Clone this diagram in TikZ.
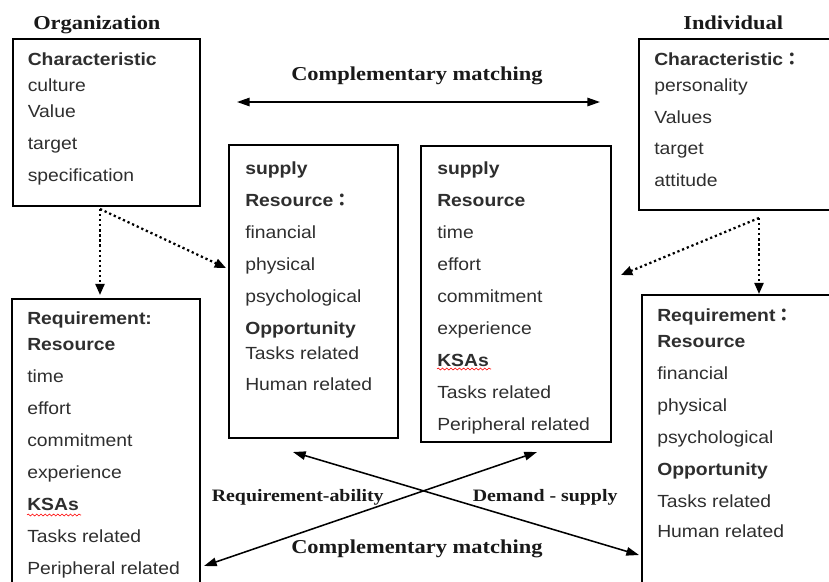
\documentclass[tikz,border=0pt]{standalone}
\usepackage{fontspec}
\newfontfamily\itemfont[FakeStretch=1.1]{Liberation Sans}
\newfontfamily\captionfont[FakeStretch=1.14]{Liberation Serif}
\newfontfamily\cjkfont{Noto Sans CJK JP}
\newcommand{\fwcolon}{{\cjkfont ：}}
\usetikzlibrary{arrows.meta,fit,decorations.pathmorphing}

\tikzset{
  box/.style={draw, line width=1.8pt, inner sep=0pt},
  items/.style={anchor=north west, align=left, inner sep=0pt, text=black!82,
    font=\fontsize{12.5}{22.76}\itemfont},
  caption/.style={anchor=base west, inner sep=0pt, text=black!90,
    font=\fontsize{14}{16}\captionfont\bfseries},
  smallcaption/.style={caption, font=\fontsize{12.4}{15}\captionfont\bfseries},
  match/.style={line width=1.1pt,
    {Triangle[length=9pt,width=6pt]}-{Triangle[length=9pt,width=6pt]}},
  link/.style={dotted, line width=1.6pt, -{Triangle[length=8pt,width=6.5pt]}},
  squiggle/.style={red, line width=0.4pt, decorate,
    decoration={snake, amplitude=0.7pt, segment length=3pt}},
}

\begin{document}
\begin{tikzpicture}[x=0.025cm, y=-0.025cm]
    \useasboundingbox (0,0) rectangle (829,581);

    % boxes
    \node[box, fit={(13,39) (200,206)}] (orgchar) {};
    \node[box, fit={(229,145) (398,438)}] (orgsupply) {};
    \node[box, fit={(421,146) (611,442)}] (indsupply) {};
    \node[box, fit={(639,39) (840,210)}] (indchar) {};
    \node[box, fit={(12,299) (200,600)}] (orgreq) {};
    \node[box, fit={(642,295) (840,600)}] (indreq) {};

    % box contents
    \node[items] (orgchartext) at (27.5,52) {\textbf{Characteristic}\\[-0.15cm]
      culture\\[-0.15cm] Value\\ target\\ specification};
    \node[items] (orgsupplytext) at (245,161) {\textbf{supply}\\
      \textbf{Resource\fwcolon}\\ financial\\ physical\\ psychological\\
      \textbf{Opportunity}\\[-0.175cm] Tasks related\\[-0.025cm] Human related};
    \node[items] (indsupplytext) at (437,161) {\textbf{supply}\\
      \textbf{Resource}\\ time\\ effort\\ commitment\\ experience\\
      \textbf{KSAs}\\ Tasks related\\ Peripheral related};
    \node[items] (indchartext) at (654,52) {\textbf{Characteristic\fwcolon}\\[-0.15cm]
      personality\\ Values\\[-0.025cm] target\\ attitude};
    \node[items] (orgreqtext) at (27,311.5) {\textbf{Requirement:}\\[-0.15cm]
      \textbf{Resource}\\ time\\ effort\\ commitment\\ experience\\
      \textbf{KSAs}\\ Tasks related\\ Peripheral related};
    \node[items] (indreqtext) at (657,308) {\textbf{Requirement\fwcolon}\\[-0.15cm]
      \textbf{Resource}\\ financial\\ physical\\ psychological\\
      \textbf{Opportunity}\\ Tasks related\\[-0.05cm] Human related};

    % spell check marks
    \draw[squiggle] (437,369) -- (491,369);
    \draw[squiggle] (27,515) -- (81,515);

    % captions
    \node[caption] (org) at (33,29) {Organization};
    \node[caption] (ind) at (683,29) {Individual};
    \node[caption] (topmatch) at (291,80) {Complementary matching};
    \node[smallcaption] (reqability) at (211.5,501.5) {Requirement-ability};
    \node[smallcaption] (demsupply) at (472.5,501.5) {Demand - supply};
    \node[caption] (botmatch) at (291,553) {Complementary matching};

    % connector ends
    \coordinate (matchL) at (237,102);
    \coordinate (matchR) at (600,102);
    \coordinate (orgout) at (100,209);
    \coordinate (orgdown) at (100,295);
    \coordinate (orgside) at (226,268);
    \coordinate (indout) at (759,218);
    \coordinate (inddown) at (759,294);
    \coordinate (indside) at (621,275);
    \coordinate (crossA) at (293,452);
    \coordinate (crossB) at (639,555);
    \coordinate (crossC) at (204,566);
    \coordinate (crossD) at (537,452);

    % arrows
    \draw[match] (matchL) -- (matchR);
    \draw[link] (orgout) -- (orgdown);
    \draw[link] (orgout) -- (orgside);
    \draw[link] (indout) -- (inddown);
    \draw[link] (indout) -- (indside);
    \draw[match] (crossA) -- (crossB);
    \draw[match] (crossC) -- (crossD);
\end{tikzpicture}
\end{document}
